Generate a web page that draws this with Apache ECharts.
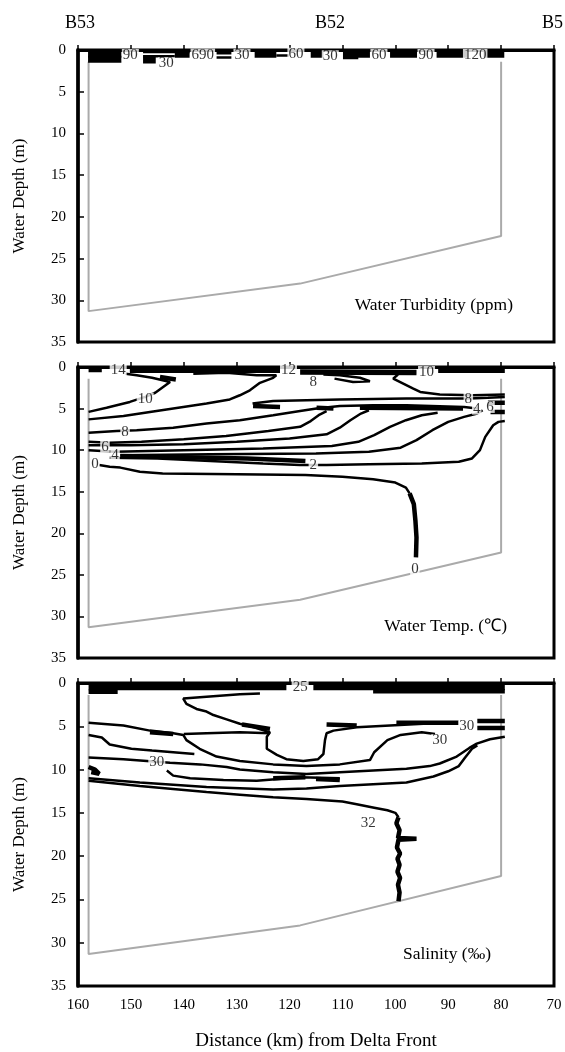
<!DOCTYPE html>
<html>
<head>
<meta charset="utf-8">
<script src="https://cdn.jsdelivr.net/npm/echarts@6/dist/echarts.min.js"></script>
<style>
  html, body { margin: 0; padding: 0; background: #fff; }
  #main { width: 565px; height: 1052px; }
</style>
</head>
<body>
<div id="main"></div>
<script>
// sea-bed / station profile (km, depth m), same in all three panels
var bottomProfile = [[158, 1.4], [158, 31.3], [118, 28.0], [80, 22.3], [80, 1.4]];

// ---- turbidity (ppm) contours ----
var turbBand = [
  [[158.1, 0.5], [151.8, 0.5]],
  [[158.1, 1.1], [151.8, 1.1]],
  [[147.7, 1.2], [145.3, 1.2]],
  [[141.7, 0.5], [138.9, 0.5]],
  [[126.6, 0.5], [122.5, 0.5]],
  [[116.0, 0.5], [113.6, 0.5]],
  [[109.9, 0.5], [104.8, 0.5]],
  [[101.0, 0.5], [95.9, 0.5]],
  [[92.2, 0.5], [86.4, 0.5]],
  [[83.3, 0.5], [79.4, 0.5]]
];
var turbLines = [
  [[147.7, 0.25], [138.9, 0.25]],
  [[147.7, 0.75], [141.7, 0.75]],
  [[133.8, 0.4], [131.0, 0.4]],
  [[133.8, 0.9], [131.0, 0.9]],
  [[122.5, 0.65], [120.1, 0.65]],
  [[109.9, 0.95], [107.0, 0.95]]
];
var turbLabels = [
  [150.1, 0.6, '90'], [143.3, 1.6, '30'], [136.4, 0.55, '690'], [129.0, 0.6, '30'],
  [118.8, 0.45, '60'], [112.3, 0.75, '30'], [103.1, 0.6, '60'], [94.2, 0.6, '90'], [84.9, 0.6, '120']
];

// ---- temperature (C) contours ----
var tempBand = [
  [[158.0, 0.3], [155.5, 0.3]],
  [[150.2, 0.4], [121.8, 0.4]],
  [[118.0, 0.6], [96.0, 0.65]],
  [[91.9, 0.4], [79.3, 0.4]]
];
var tempBlobs = [
  [[126.9, 4.7], [121.8, 4.8]],
  [[114.9, 4.9], [111.7, 5.0]],
  [[106.7, 4.9], [87.2, 5.0]],
  [[82.5, 4.3], [79.3, 4.3]],
  [[82.0, 5.4], [79.3, 5.4]],
  [[144.5, 1.2], [141.5, 1.5]],
  [[152.0, 10.7], [128.0, 11.0], [117.0, 11.3]],
  [[97.3, 15.2], [96.5, 16.5], [96.2, 18.5], [96.0, 20.5], [96.1, 22.9]]
];
var tempLines = [
  [[158.0, 5.4], [154.6, 4.9], [150.2, 4.2], [147.3, 3.6], [145.4, 3.1], [142.6, 1.8], [146.0, 1.3], [148.9, 1.0], [151.0, 0.8]],
  [[138.2, 0.8], [131.9, 0.7], [126.2, 1.0], [122.5, 1.0], [123.1, 1.3], [125.6, 1.9], [127.5, 2.8], [129.4, 3.4], [131.3, 3.9], [135.7, 4.4], [140.1, 4.8], [146.4, 5.4], [151.4, 5.9], [158.0, 6.3]],
  [[113.6, 0.9], [110.5, 1.0], [106.7, 1.3], [104.8, 1.7], [108.0, 1.8], [111.5, 1.4]],
  [[99.5, 0.9], [100.4, 1.4], [98.5, 2.0], [96.6, 2.6], [95.3, 3.0], [91.6, 3.3], [85.3, 3.4], [79.3, 3.3]],
  [[127.0, 4.4], [123.1, 4.1], [116.8, 4.0], [110.5, 3.9], [104.2, 3.85], [97.9, 3.8], [86.0, 3.8], [82.5, 3.7], [79.3, 3.6]],
  [[158.0, 7.9], [152.7, 7.7], [148.9, 7.6], [142.0, 7.3], [135.7, 6.8], [129.4, 6.4], [123.1, 5.8], [118.0, 5.3], [114.9, 5.0], [110.5, 4.7], [104.2, 4.6], [97.9, 4.6], [87.0, 4.8], [84.5, 5.0]],
  [[158.0, 9.0], [154.0, 9.1], [148.0, 9.0], [140.0, 8.7], [132.0, 8.3], [124.0, 7.7], [118.0, 7.2], [116.0, 6.5], [114.5, 5.8], [113.0, 5.3]],
  [[158.0, 9.4], [150.0, 9.4], [140.0, 9.3], [130.0, 9.0], [120.0, 8.6], [113.0, 8.1], [110.5, 7.3], [108.5, 6.4], [106.5, 5.6], [105.0, 5.2]],
  [[158.0, 10.0], [153.0, 10.2], [140.0, 10.0], [125.0, 9.8], [112.0, 9.5], [107.0, 9.0], [104.0, 8.2], [101.0, 7.2], [98.0, 6.4], [95.0, 5.8], [92.0, 5.5]],
  [[152.0, 10.6], [135.0, 10.5], [115.0, 10.4], [105.0, 10.2], [99.0, 9.7], [96.0, 8.8], [93.0, 7.6], [90.0, 6.6], [87.0, 6.0], [84.5, 5.6], [83.5, 5.2]],
  [[154.0, 10.9], [145.0, 11.0], [135.0, 11.3], [125.0, 11.6], [118.0, 11.8], [113.0, 11.8], [105.0, 11.7], [95.0, 11.6], [88.0, 11.4], [85.5, 11.0], [84.0, 10.0], [83.0, 8.4], [81.5, 7.0], [80.5, 6.6], [79.3, 6.5]],
  [[156.0, 11.8], [154.0, 12.0], [152.0, 12.1], [148.3, 12.6], [144.0, 12.8], [130.0, 12.9], [117.0, 13.0], [110.0, 13.2], [104.2, 13.5], [100.0, 13.9], [98.0, 14.5], [97.3, 15.2]]
];
var tempLabels = [
  [152.4, 0.35, '14'], [120.2, 0.35, '12'], [94.1, 0.6, '10'], [115.5, 1.8, '8'],
  [147.3, 3.8, '10'], [86.2, 3.8, '8'], [84.6, 5.0, '4'], [82.1, 4.8, '6'],
  [151.1, 7.8, '8'], [154.9, 9.6, '6'], [153.0, 10.6, '4'], [156.8, 11.7, '0'],
  [115.5, 11.8, '2'], [96.3, 24.3, '0']
];

// ---- salinity (per mil) contours ----
var salBand = [
  [[158.0, 0.45], [120.6, 0.45]],
  [[115.5, 0.45], [79.3, 0.45]]
];
var salBlobs = [
  [[158.0, 1.0], [152.5, 1.0]],
  [[104.2, 0.95], [79.3, 0.95]],
  [[99.8, 4.6], [88.0, 4.6]],
  [[84.5, 4.4], [79.3, 4.4]],
  [[84.5, 5.2], [79.3, 5.2]],
  [[129.0, 4.8], [123.7, 5.3]],
  [[113.0, 4.8], [107.3, 4.9]],
  [[146.4, 5.7], [142.0, 5.9]],
  [[123.1, 11.0], [117.0, 10.9]],
  [[115.0, 11.1], [110.5, 11.2]],
  [[158.0, 9.7], [156.8, 10.0], [156.0, 10.5], [157.5, 10.3]],
  [[99.4, 15.5], [99.8, 16.2], [99.2, 17.0], [99.5, 17.9], [96.0, 18.0], [99.4, 18.1], [99.7, 19.0], [99.1, 19.7], [99.6, 20.3], [99.2, 21.0], [99.6, 21.8], [99.1, 22.5], [99.5, 23.3], [99.2, 24.2], [99.4, 25.2]]
];
var salLines = [
  [[125.6, 1.2], [129.4, 1.3], [140.1, 1.8], [139.5, 2.4], [137.6, 3.0], [135.7, 3.3], [134.4, 3.7], [131.9, 4.2], [129.4, 4.7], [126.9, 5.1], [123.7, 5.7], [124.3, 6.2], [124.3, 7.6], [122.4, 8.3], [120.6, 8.8], [117.4, 9.0], [114.6, 8.8], [113.6, 8.2], [113.3, 6.6], [113.0, 5.8], [111.7, 5.5], [107.3, 5.1], [101.0, 4.9], [94.7, 4.7], [89.0, 4.6]],
  [[158.0, 4.6], [151.4, 4.9], [146.4, 5.5], [142.0, 5.8], [140.1, 6.0], [139.5, 6.6], [137.0, 7.6], [133.8, 8.5], [129.4, 9.0], [123.1, 9.4], [116.8, 9.6], [110.5, 9.4], [104.8, 8.9], [104.0, 8.0], [101.5, 6.6], [99.0, 6.0], [95.0, 5.7], [92.5, 5.9]],
  [[140.0, 5.9], [135.7, 5.8], [129.4, 5.7], [123.7, 5.8]],
  [[158.0, 6.0], [155.5, 6.3], [154.0, 7.1], [149.9, 7.6], [146.0, 7.8], [142.0, 8.0], [138.0, 8.2]],
  [[158.0, 8.6], [151.4, 8.8], [147.0, 9.0], [142.6, 9.2], [136.9, 9.4], [131.9, 9.7], [129.4, 10.0], [123.1, 10.3], [116.8, 10.5], [110.5, 10.3], [104.2, 10.1], [97.9, 9.9], [93.5, 9.6], [91.6, 9.3], [88.4, 8.5], [86.0, 7.5], [84.6, 7.0], [82.1, 6.5], [79.3, 6.2]],
  [[143.2, 10.1], [142.0, 10.7], [138.8, 11.0], [132.5, 11.2], [126.2, 11.3], [118.0, 10.9], [110.5, 11.0]],
  [[158.0, 11.0], [148.3, 11.5], [135.7, 12.0], [123.1, 12.3], [116.8, 12.2], [110.5, 11.9], [104.2, 11.7], [97.9, 11.5], [92.8, 10.8], [90.0, 10.2], [88.0, 9.6], [86.8, 8.6], [85.5, 7.6], [84.5, 7.2]],
  [[158.0, 11.3], [148.3, 11.9], [141.0, 12.3], [135.7, 12.6], [129.4, 12.9], [123.1, 13.2], [116.8, 13.4], [110.0, 13.7], [107.3, 14.0], [104.0, 14.4], [101.5, 14.7], [100.0, 15.0], [99.4, 15.5]]
];
var salLabels = [
  [118.0, 0.45, '25'], [86.5, 5.0, '30'], [91.6, 6.6, '30'], [145.1, 9.1, '30'], [105.1, 16.2, '32']
];

var serif = 'Liberation Serif';
var chart = echarts.init(document.getElementById('main'), null, { renderer: 'canvas' });

var grids = [
  { left: 78, right: 11, top: 50, height: 292 },
  { left: 78, right: 11, top: 367, height: 291 },
  { left: 78, right: 11, top: 683, height: 304 }
];

var series = [];
function addLines(list, gi, width) {
  list.forEach(function (pts) {
    series.push({
      type: 'line', xAxisIndex: gi, yAxisIndex: gi, data: pts,
      symbol: 'none', silent: true, z: 3,
      lineStyle: { color: '#000', width: width }
    });
  });
}
function addLabels(list, gi) {
  series.push({
    type: 'scatter', xAxisIndex: gi, yAxisIndex: gi, silent: true, z: 10,
    symbolSize: 1, itemStyle: { color: 'rgba(0,0,0,0)' },
    data: list.map(function (l) { return { value: [l[0], l[1]], name: l[2] }; }),
    label: {
      show: true, position: 'inside', formatter: '{b}', color: '#000',
      fontFamily: serif, fontSize: 15, lineHeight: 12,
      backgroundColor: '#fff', padding: [0, 1]
    }
  });
}
for (var g = 0; g < 3; g++) {
  series.push({
    type: 'line', xAxisIndex: g, yAxisIndex: g, data: bottomProfile,
    symbol: 'none', silent: true, z: 2,
    lineStyle: { color: '#aaa', width: 2 }
  });
}
addLines(turbBand, 0, 7);
addLines(turbLines, 0, 2.5);
addLabels(turbLabels, 0);
addLines(tempBand, 1, 5.5);
addLines(tempBlobs, 1, 4.5);
addLines(tempLines, 1, 2.5);
addLabels(tempLabels, 1);
addLines(salBand, 2, 6.5);
addLines(salBlobs, 2, 4.5);
addLines(salLines, 2, 2.5);
addLabels(salLabels, 2);

var xAxes = grids.map(function (gr, i) {
  return {
    type: 'value', gridIndex: i, min: 70, max: 160, interval: 10, inverse: true,
    splitLine: { show: false },
    axisLine: { show: true, lineStyle: { color: '#000', width: 3 } },
    axisTick: { show: true, inside: true, length: 5, lineStyle: { color: '#000', width: 1.5 } },
    axisLabel: { show: i === 2, color: '#000', fontFamily: serif, fontSize: 15, margin: 12 },
    name: i === 2 ? 'Distance (km) from Delta Front' : '',
    nameLocation: 'middle', nameGap: 46,
    nameTextStyle: { color: '#000', fontFamily: serif, fontSize: 19 }
  };
});
var yAxes = grids.map(function (gr, i) {
  return {
    type: 'value', gridIndex: i, min: 0, max: 35, interval: 5, inverse: true,
    splitLine: { show: false },
    axisLine: { show: true, lineStyle: { color: '#000', width: 3.5 } },
    axisTick: { show: true, inside: true, length: 6, lineStyle: { color: '#000', width: 1.5 } },
    axisLabel: { color: '#000', fontFamily: serif, fontSize: 15, margin: 12 },
    name: 'Water Depth (m)', nameLocation: 'middle', nameGap: 50, nameRotate: 90,
    nameTextStyle: { color: '#000', fontFamily: serif, fontSize: 17 }
  };
});

var texts = [
  { t: 'B53', x: 80, y: 23, a: 'center', s: 18 },
  { t: 'B52', x: 330, y: 23, a: 'center', s: 18 },
  { t: 'B5', x: 542, y: 23, a: 'left', s: 18 },
  { t: 'Water Turbidity (ppm)', x: 513, y: 305, a: 'right', s: 17.5 },
  { t: 'Water Temp. (\u2103)', x: 507, y: 626, a: 'right', s: 17.5 },
  { t: 'Salinity (\u2030)', x: 447, y: 954, a: 'center', s: 17.5 }
];

chart.setOption({
  animation: false,
  backgroundColor: '#fff',
  grid: grids.map(function (gr) {
    return Object.assign({ show: true, borderColor: '#000', borderWidth: 3, backgroundColor: 'transparent' }, gr);
  }),
  xAxis: xAxes,
  yAxis: yAxes,
  graphic: texts.map(function (t) {
    return {
      type: 'text', x: t.x, y: t.y, z: 20, silent: true,
      style: { text: t.t, fill: '#000', font: t.s + 'px "' + serif + '"', textAlign: t.a, textVerticalAlign: 'middle' }
    };
  }),
  series: series
});
</script>
</body>
</html>
